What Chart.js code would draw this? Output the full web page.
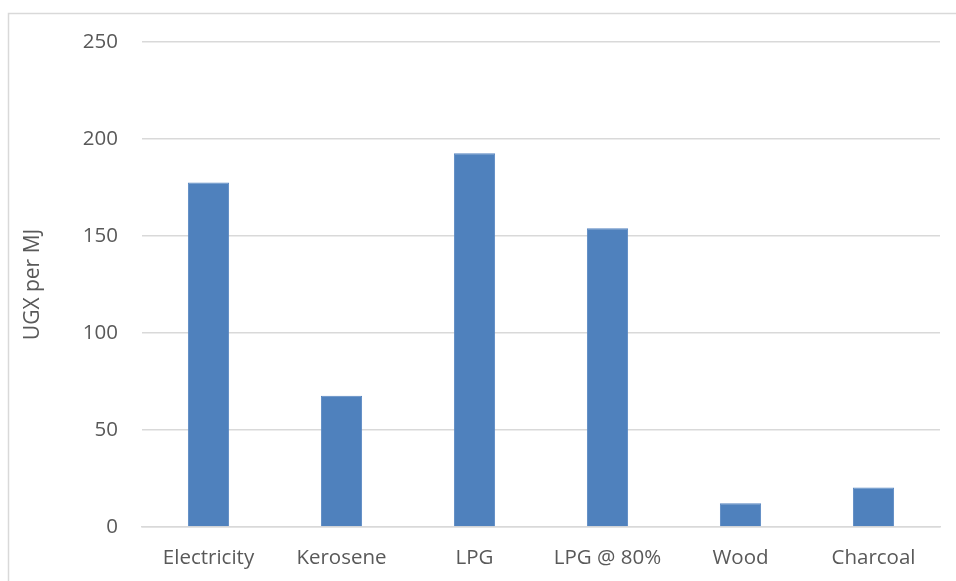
<!DOCTYPE html>
<html>
<head>
<meta charset="utf-8">
<script src="https://cdn.jsdelivr.net/npm/chart.js@4/dist/chart.umd.min.js"></script>
<style>
  html, body { margin: 0; padding: 0; background: #ffffff; }
  #wrap { width: 956px; height: 581px; position: relative; }
</style>
</head>
<body>
<div id="wrap"><canvas id="c" width="956" height="581"></canvas></div>
<script>
// Cost of useful cooking energy by fuel
const fuels = ['Electricity', 'Kerosene', 'LPG', 'LPG @ 80%', 'Wood', 'Charcoal'];
const ugxPerMJ = [177.6, 67.6, 192.7, 154.0, 12.2, 20.3];
const yTicks = [0, 50, 100, 150, 200, 250];

const textColor = '#595959';
const gridColor = '#d9d9d9';
const fontFamily = '"Open Sans", "Noto Sans", sans-serif';

// Light frame around the chart area, open to the right and bottom edges
const framePlugin = {
  id: 'frame',
  beforeDraw(chart) {
    const ctx = chart.ctx;
    ctx.save();
    ctx.fillStyle = '#ffffff';
    ctx.fillRect(0, 0, chart.width, chart.height);
    ctx.strokeStyle = '#d9d9d9';
    ctx.lineWidth = 1.5;
    ctx.beginPath();
    ctx.moveTo(8.5, chart.height + 2);
    ctx.lineTo(8.5, 13.5);
    ctx.lineTo(chart.width + 2, 13.5);
    ctx.stroke();
    ctx.restore();
  }
};

new Chart(document.getElementById('c'), {
  type: 'bar',
  data: {
    labels: fuels,
    datasets: [{
      data: ugxPerMJ,
      backgroundColor: '#4f81bd',
      borderColor: '#5786c1',
      borderWidth: 1,
      categoryPercentage: 1.0,
      barPercentage: 0.31
    }]
  },
  options: {
    responsive: false,
    animation: false,
    devicePixelRatio: 1,
    layout: { padding: { left: 0, right: 16, top: 42, bottom: 0 } },
    plugins: {
      legend: { display: false },
      tooltip: { enabled: false }
    },
    scales: {
      x: {
        grid: { display: false, drawTicks: false },
        border: { display: true, color: gridColor, width: 1.5 },
        ticks: {
          color: textColor,
          font: { family: fontFamily, size: 20.5 },
          padding: 19,
          maxRotation: 0
        },
        afterFit(scale) { scale.height = 54; }
      },
      y: {
        min: 0,
        max: 250,
        afterBuildTicks(scale) { scale.ticks = yTicks.map(v => ({ value: v })); },
        grid: { color: gridColor, lineWidth: 1.5, drawTicks: false },
        border: { display: false },
        ticks: {
          color: textColor,
          font: { family: fontFamily, size: 20.5 },
          padding: 24
        },
        title: {
          display: true,
          text: 'UGX per MJ',
          color: textColor,
          font: { family: fontFamily, size: 21 },
          padding: { top: 20, bottom: 0 }
        },
        afterFit(scale) { scale.width = 142; }
      }
    }
  },
  plugins: [framePlugin]
});
</script>
</body>
</html>
